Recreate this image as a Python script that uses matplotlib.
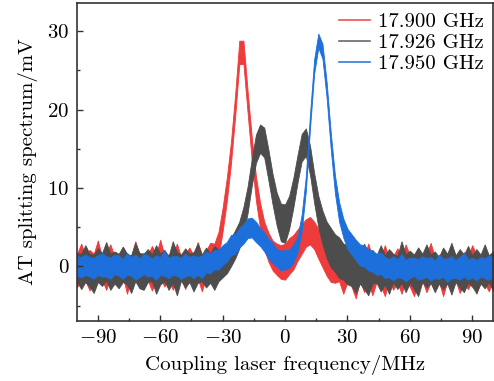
"""AT splitting spectra for three microwave frequencies (noise bands)."""

import matplotlib
matplotlib.use("Agg")
import matplotlib.pyplot as plt
import numpy as np
from matplotlib.ticker import MultipleLocator

plt.rcParams["font.family"] = "cmr10"
plt.rcParams["mathtext.fontset"] = "cm"
plt.rcParams["axes.formatter.use_mathtext"] = True
plt.rcParams["axes.unicode_minus"] = True

# coupling laser detuning grid, MHz
FREQ = list(range(-100, 101, 2))

LABELS = ["17.900 GHz", "17.926 GHz", "17.950 GHz"]
COLORS = ["#ee3b3b", "#4d4d4d", "#1d6fdc"]
LEGEND_COLORS = ["#f05050", "#6a6a6a", "#2d7be0"]

# band centre and upper/lower noise half-widths (mV)
RED_MID = [0.1, 0.0, -0.1, 0.1, 0.0, 0.2, -0.1, 0.0, 0.1, -0.2,
           0.0, 0.1, -0.1, 0.0, 0.2, 0.0, -0.1, 0.1, 0.0, -0.1,
           0.1, 0.0, -0.2, 0.0, 0.1, -0.1, 0.0, 0.2, 0.0, 0.1,
           0.0, 0.2, 0.4, 1.0, 2.8, 6.0, 9.8, 14.5, 20.5, 27.3,
           27.3, 21.0, 15.0, 10.0, 6.5, 4.0, 2.5, 1.5, 1.0, 0.7,
           0.8, 1.3, 2.0, 2.8, 3.6, 4.3, 4.6, 4.0, 3.0, 2.0,
           1.2, 0.6, 0.2, -0.1, -0.2, -0.3, -0.2, -0.3, -0.2, -0.4,
           -0.3, -0.2, -0.4, -0.3, -0.2, -0.3, -0.4, -0.2, -0.3, -0.3,
           -0.2, -0.4, -0.3, -0.2, -0.3, -0.3, -0.2, -0.4, -0.3, -0.2,
           -0.3, -0.2, -0.3, -0.4, -0.2, -0.3, -0.2, -0.3, -0.2, -0.3,
           -0.2]
RED_UP = [1.5, 2.9, 1.4, 2.0, 1.6, 3.1, 1.3, 1.7, 2.7, 1.5,
          1.4, 2.4, 1.6, 1.3, 3.0, 1.5, 1.8, 1.4, 2.6, 1.6,
          3.3, 1.4, 1.7, 1.5, 2.8, 1.3, 1.6, 2.2, 1.4, 3.0,
          1.5, 1.8, 2.6, 1.9, 1.6, 1.5, 1.5, 1.4, 1.4, 1.5,
          1.5, 1.4, 1.5, 1.5, 1.6, 1.7, 1.8, 1.8, 1.9, 2.0,
          2.1, 2.3, 2.0, 1.9, 1.8, 1.7, 1.7, 1.7, 1.8, 2.0,
          2.2, 2.4, 1.6, 3.0, 1.5, 2.2, 1.4, 2.7, 1.6, 1.5,
          3.2, 1.4, 2.0, 1.6, 2.9, 1.3, 1.7, 2.5, 1.5, 3.1,
          1.6, 1.4, 2.7, 1.5, 1.8, 3.3, 1.4, 1.6, 2.4, 1.5,
          2.9, 1.6, 1.4, 2.2, 1.5, 3.0, 1.7, 1.4, 2.6, 1.5,
          2.1]
RED_DN = [2.8, 1.5, 1.7, 3.2, 1.4, 2.1, 1.6, 3.0, 1.5, 1.8,
          2.5, 1.4, 3.4, 1.6, 1.5, 2.7, 1.4, 1.9, 3.1, 1.5,
          1.6, 2.6, 1.4, 3.0, 1.7, 1.5, 2.9, 1.4, 2.2, 1.6,
          3.2, 1.5, 1.8, 1.7, 1.6, 1.5, 1.5, 1.4, 1.4, 1.5,
          1.5, 1.4, 1.5, 1.6, 1.7, 1.8, 1.9, 2.0, 2.1, 2.3,
          2.5, 2.3, 2.4, 2.1, 2.0, 1.8, 1.8, 1.8, 2.0, 2.1,
          2.4, 2.6, 2.3, 1.8, 3.3, 1.7, 2.4, 3.8, 1.6, 2.9,
          1.7, 3.5, 1.6, 2.2, 3.6, 1.5, 2.6, 1.8, 3.2, 1.6,
          2.4, 3.4, 1.7, 1.6, 3.0, 1.8, 2.5, 1.6, 3.5, 1.7,
          2.2, 1.6, 3.1, 1.8, 2.7, 1.5, 3.3, 1.7, 2.0, 2.9,
          1.6]

GRAY_MID = [-0.2, -0.1, -0.3, -0.2, -0.1, -0.3, -0.2, -0.2, -0.1, -0.3,
            -0.2, -0.3, -0.1, -0.2, -0.2, -0.3, -0.1, -0.2, -0.3, -0.2,
            -0.1, -0.2, -0.3, -0.2, -0.1, -0.2, -0.3, -0.2, -0.2, -0.1,
            -0.2, -0.1, -0.2, -0.1, 0.1, 0.5, 1.0, 1.8, 2.8, 4.0,
            5.8, 8.5, 12.0, 15.0, 16.3, 15.8, 13.0, 10.0, 7.5, 5.8,
            5.5, 7.0, 9.5, 12.5, 15.2, 15.8, 13.5, 10.0, 7.0, 5.0,
            3.5, 2.5, 1.8, 1.2, 0.7, 0.3, -0.2, -0.3, -0.4, -0.3,
            -0.2, -0.3, -0.4, -0.3, -0.2, -0.3, -0.3, -0.4, -0.2, -0.3,
            -0.3, -0.2, -0.4, -0.3, -0.3, -0.2, -0.3, -0.4, -0.3, -0.2,
            -0.3, -0.3, -0.2, -0.4, -0.3, -0.2, -0.3, -0.3, -0.2, -0.3,
            -0.3]
GRAY_UP = [1.9, 1.7, 3.0, 1.8, 1.6, 2.6, 1.9, 3.3, 1.7, 2.2,
           1.8, 2.8, 1.7, 1.6, 3.2, 2.0, 1.7, 2.4, 1.8, 2.9,
           1.7, 2.3, 1.6, 3.4, 1.9, 1.7, 2.6, 1.8, 2.0, 3.0,
           1.7, 2.5, 1.8, 2.7, 2.0, 1.9, 1.8, 1.8, 1.8, 1.7,
           1.8, 1.7, 1.7, 1.8, 1.8, 1.9, 1.9, 1.8, 1.9, 2.2,
           2.4, 2.0, 1.8, 1.7, 1.7, 1.8, 1.9, 1.9, 2.0, 2.1,
           2.2, 2.4, 2.3, 2.5, 2.2, 2.4, 1.8, 2.7, 1.9, 3.2,
           1.7, 2.4, 1.8, 3.0, 1.6, 2.5, 1.9, 1.7, 3.4, 1.8,
           2.3, 1.7, 2.8, 1.9, 3.1, 1.7, 2.2, 1.6, 2.7, 1.8,
           3.3, 1.7, 2.4, 1.9, 2.9, 1.6, 2.5, 1.8, 3.0, 1.7,
           2.2]
GRAY_DN = [1.8, 2.8, 1.7, 2.4, 3.3, 1.7, 2.3, 1.6, 2.9, 1.9,
           2.6, 1.7, 2.2, 3.2, 1.7, 2.5, 2.9, 1.8, 1.6, 3.3,
           2.2, 1.7, 2.7, 1.9, 3.6, 1.6, 2.4, 1.8, 3.0, 2.0,
           1.7, 2.6, 1.9, 2.9, 2.0, 1.9, 1.9, 1.8, 1.8, 1.7,
           1.7, 1.7, 1.7, 1.8, 1.8, 1.9, 2.0, 2.1, 2.3, 2.6,
           2.5, 2.2, 2.0, 1.8, 1.8, 1.7, 1.8, 1.9, 2.0, 2.2,
           2.4, 2.6, 2.5, 2.7, 2.4, 2.6, 2.3, 3.1, 1.8, 2.6,
           3.5, 1.9, 1.7, 2.9, 2.1, 3.2, 1.7, 2.5, 1.9, 3.0,
           1.8, 2.7, 3.4, 1.7, 2.4, 1.9, 3.0, 1.8, 2.6, 2.0,
           3.3, 1.7, 2.5, 2.9, 1.8, 2.4, 3.1, 1.9, 2.6, 1.7,
           2.8]

BLUE_MID = [0.0, 0.1, -0.1, 0.0, 0.1, 0.0, -0.1, 0.1, 0.0, 0.0,
            0.1, -0.1, 0.0, 0.0, 0.1, -0.1, 0.0, 0.1, 0.0, -0.1,
            0.0, 0.1, 0.0, -0.1, 0.0, 0.1, 0.0, 0.0, -0.1, 0.1,
            0.1, 0.2, 0.4, 0.7, 1.0, 1.4, 1.9, 2.5, 3.0, 3.6,
            4.2, 4.7, 4.9, 4.5, 3.8, 3.0, 2.3, 1.6, 1.1, 0.8,
            0.8, 1.0, 1.6, 2.8, 5.5, 10.5, 18.5, 25.5, 28.8, 27.5,
            22.5, 16.0, 10.5, 7.0, 4.8, 3.6, 2.7, 2.1, 1.6, 1.2,
            0.9, 0.6, 0.4, 0.2, -0.1, -0.2, -0.2, -0.3, -0.2, -0.2,
            -0.3, -0.2, -0.2, -0.3, -0.2, -0.2, -0.3, -0.2, -0.3, -0.2,
            -0.2, -0.3, -0.2, -0.2, -0.3, -0.2, -0.2, -0.3, -0.2, -0.2,
            -0.2]
BLUE_UP = [1.3, 1.1, 1.6, 1.2, 1.0, 1.4, 1.8, 1.2, 1.1, 1.5,
           1.3, 1.0, 1.7, 1.2, 1.4, 1.1, 1.6, 1.3, 1.0, 1.5,
           1.2, 1.9, 1.1, 1.4, 1.3, 1.0, 1.6, 1.2, 1.5, 1.1,
           1.3, 1.7, 1.2, 1.4, 1.1, 1.3, 1.2, 1.5, 1.1, 1.3,
           1.2, 1.4, 1.3, 1.2, 1.1, 1.3, 1.2, 1.4, 1.1, 1.2,
           1.3, 1.1, 1.2, 1.0, 1.1, 1.0, 0.9, 0.9, 0.9, 0.9,
           1.0, 1.0, 1.1, 1.2, 1.3, 1.2, 1.4, 1.3, 1.2, 1.5,
           1.3, 1.4, 1.2, 1.6, 1.3, 1.1, 1.5, 1.2, 1.8, 1.0,
           1.4, 1.3, 1.1, 1.6, 1.2, 1.4, 1.0, 1.7, 1.3, 1.2,
           1.5, 1.1, 1.4, 1.9, 1.2, 1.3, 1.0, 1.5, 1.2, 1.6,
           1.3]
BLUE_DN = [1.2, 1.5, 1.0, 1.3, 1.7, 1.1, 1.2, 1.4, 1.6, 1.0,
           1.3, 1.5, 1.1, 1.2, 1.8, 1.3, 1.0, 1.4, 1.2, 1.6,
           1.1, 1.3, 1.5, 1.0, 1.2, 1.7, 1.3, 1.1, 1.4, 1.2,
           1.6, 1.0, 1.3, 1.1, 1.4, 1.2, 1.3, 1.1, 1.4, 1.2,
           1.3, 1.1, 1.2, 1.4, 1.2, 1.1, 1.3, 1.2, 1.1, 1.3,
           1.2, 1.2, 1.1, 1.0, 1.0, 0.9, 0.9, 0.9, 0.9, 1.0,
           1.0, 1.1, 1.2, 1.3, 1.1, 1.4, 1.2, 1.3, 1.5, 1.2,
           1.4, 1.3, 1.5, 1.2, 1.4, 1.2, 1.6, 1.1, 1.3, 1.7,
           1.2, 1.0, 1.5, 1.3, 1.1, 1.6, 1.2, 1.4, 1.0, 1.8,
           1.3, 1.2, 1.5, 1.1, 1.4, 1.2, 1.6, 1.0, 1.3, 1.5,
           1.2]

SERIES = [(RED_MID, RED_UP, RED_DN),
          (GRAY_MID, GRAY_UP, GRAY_DN),
          (BLUE_MID, BLUE_UP, BLUE_DN)]

FS = 15


def main():
    x = np.array(FREQ, dtype=float)
    fig = plt.figure(figsize=(4.94, 3.81), dpi=100)
    ax = fig.add_axes([0.156, 0.157, 0.842, 0.835])

    for (mid, up, dn), col, lcol, lab in zip(SERIES, COLORS, LEGEND_COLORS, LABELS):
        mid = np.array(mid)
        ax.fill_between(x, mid - np.array(dn), mid + np.array(up),
                        color=col, lw=0.6, edgecolor=col)
        ax.plot([], [], color=lcol, lw=1.2, label=lab)

    ax.set_xlim(-100, 100)
    ax.set_ylim(-7, 33.6)
    ax.xaxis.set_major_locator(MultipleLocator(30))
    ax.xaxis.set_minor_locator(MultipleLocator(15))
    ax.yaxis.set_major_locator(MultipleLocator(10))
    ax.yaxis.set_minor_locator(MultipleLocator(5))
    ax.tick_params(which="both", direction="in", labelsize=FS,
                   color="#333333", width=1.0)
    ax.tick_params(which="major", length=4.5)
    ax.tick_params(which="minor", length=2.5)
    ax.tick_params(axis="x", pad=5.5)
    ax.tick_params(axis="y", pad=5.5)
    for sp in ax.spines.values():
        sp.set_linewidth(1.2)
        sp.set_color("#333333")

    ax.set_xlabel("Coupling laser frequency/MHz", fontsize=FS, labelpad=6)
    ax.set_ylabel("AT splitting spectrum/mV", fontsize=FS, labelpad=7)

    ax.legend(loc="upper right", frameon=False, fontsize=FS,
              handlelength=1.5, handletextpad=0.35, labelspacing=0.12,
              borderaxespad=0.15, borderpad=0.3)

    fig.savefig("out.png", dpi=100)
    plt.close(fig)


if __name__ == "__main__":
    main()
